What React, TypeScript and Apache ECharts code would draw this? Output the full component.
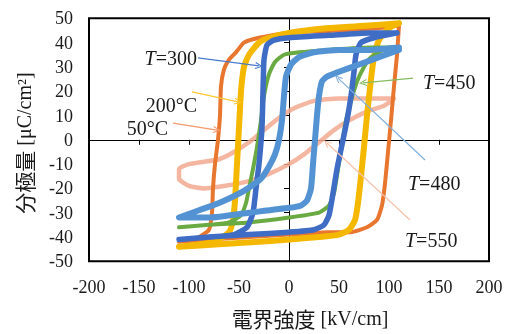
import React, { useEffect, useRef } from 'react';
import * as echarts from 'echarts';

// Axis ranges
const xMin = -200, xMax = 200, xStep = 50;
const yMin = -50, yMax = 50, yStep = 10;

// Hysteresis loops [E (kV/cm), P (μC/cm²)] — upper branch (right→left) then lower branch (left→right)
const loop50C: [number, number][] = [
  [110, 47], [90, 46], [50, 45], [0, 44], [-30, 42], [-45, 40], [-53, 36], [-60, 33], [-65, 29], [-68, 22],
  [-69, 10], [-71, 0], [-74, -10], [-76, -20], [-77, -30], [-80, -37], [-90, -40], [-110, -42],
  [-80, -41], [-40, -40], [0, -39], [40, -38], [62, -38], [78, -36], [88, -33], [93, -27], [96, -18],
  [99, -5], [102, 8], [105, 22], [108, 35], [110, 47],
];
const loop200C: [number, number][] = [
  [110, 48], [80, 47], [40, 46], [0, 44], [-20, 42], [-30, 40], [-40, 35], [-45, 30], [-48, 20], [-50, 5],
  [-52, -10], [-54, -25], [-56, -33], [-60, -38], [-75, -42], [-110, -44],
  [-70, -43], [-30, -42], [0, -41], [30, -40], [50, -39], [60, -37], [66, -33], [69, -26], [72, -15],
  [75, -3], [78, 10], [82, 25], [85, 34], [90, 41], [100, 46], [110, 48],
];
const loopT300: [number, number][] = [
  [108, 44], [80, 44], [40, 43], [0, 42], [-15, 41], [-22, 39], [-25, 33], [-26, 20], [-27, 5], [-30, -10],
  [-33, -20], [-36, -30], [-42, -36], [-55, -39], [-80, -40], [-110, -41],
  [-80, -40], [-40, -39], [0, -38], [25, -37], [35, -35], [40, -31], [44, -22], [48, -12], [53, -2],
  [58, 8], [62, 18], [65, 28], [67, 35], [72, 40], [85, 42], [108, 44],
];
const loopT450: [number, number][] = [
  [110, 38], [80, 38], [40, 37], [10, 36], [-5, 35], [-14, 32], [-20, 27], [-25, 18], [-28, 8], [-32, -3],
  [-36, -12], [-40, -20], [-43, -26], [-48, -31], [-60, -34], [-80, -35], [-110, -36],
  [-80, -35], [-40, -34], [0, -32], [30, -30], [40, -27], [45, -22], [49, -12], [53, -2], [57, 8],
  [62, 16], [68, 24], [75, 30], [82, 34], [95, 37], [110, 38],
];
const loopT480: [number, number][] = [
  [110, 38], [80, 37], [50, 37], [25, 36], [10, 34], [2, 31], [-3, 26], [-5, 18], [-7, 8], [-10, 0],
  [-14, -6], [-20, -11], [-28, -16], [-45, -21], [-70, -26], [-90, -29], [-110, -32],
  [-80, -32], [-40, -30], [0, -28], [12, -27], [18, -25], [22, -20], [24, -10], [26, 0], [28, 10],
  [30, 18], [33, 24], [38, 26], [50, 28], [70, 31], [90, 34], [110, 37],
];
const loopT550: [number, number][] = [
  [105, 17], [80, 17], [50, 17], [25, 16], [5, 13], [-10, 9], [-25, 4], [-40, -1], [-55, -5], [-70, -8],
  [-85, -9], [-100, -10], [-110, -12], [-110, -16], [-100, -19], [-85, -20], [-65, -19], [-40, -17],
  [-20, -14], [0, -10], [15, -6], [30, -1], [45, 4], [60, 8], [80, 12], [95, 14], [105, 17],
];

// Annotation arrows (data coords): from label toward loop
const arrowT300 = { from: [-91, 33.7], to: [-30, 30.4] };
const arrow200C = { from: [-97, 19.7], to: [-51, 15.6] };
const arrow50C = { from: [-116, 6.9], to: [-72, 4.0] };
const arrowT450 = { from: [124, 25.4], to: [74, 23.4] };
const arrowT480 = { from: [136, -8.3], to: [49, 25.4] };
const arrowT550 = { from: [121, -33], to: [38, -1.3] };

const xTitle = '電界強度';
const xUnit = '[kV/cm]';
const yTitle = '分極量';
const yUnit = '[μC/cm²]';

const serif = '"Liberation Serif", "Times New Roman", serif';
const cjk = '"Noto Sans CJK JP", sans-serif';
const arrowPath = 'path://M0,10 L5,0 L10,10 L8.6,10.7 L5,3.2 L1.4,10.7 Z';

export default function App() {
  const ref = useRef<HTMLDivElement>(null);
  useEffect(() => {
    if (!ref.current) return;
    const chart = echarts.init(ref.current, undefined, { renderer: 'svg' });

    const loopSeries = (data: [number, number][], color: string, width: number, opacity = 1) => ({
      type: 'line',
      xAxisIndex: 0,
      yAxisIndex: 0,
      data,
      showSymbol: false,
      symbol: 'none',
      smooth: 0.18,
      lineStyle: { color, width, opacity, cap: 'round', join: 'round' },
      silent: true,
    });

    const arrows = [
      { a: arrowT300, color: '#4A7CCB' },
      { a: arrow200C, color: '#FFC733' },
      { a: arrow50C, color: '#F39A6E' },
      { a: arrowT450, color: '#86BC62' },
      { a: arrowT480, color: '#7FAEDD' },
      { a: arrowT550, color: '#F6C1AC' },
    ];

    const labelText = (text: string, x: number, y: number, align: string) => ({
      type: 'text',
      x,
      y,
      style: {
        text,
        align,
        verticalAlign: 'middle',
        font: `20px ${serif}`,
        fill: '#1a1a1a',
        rich: {
          i: { fontStyle: 'italic', fontSize: 20, fontFamily: serif, fill: '#1a1a1a' },
          n: { fontSize: 20, fontFamily: serif, fill: '#1a1a1a' },
        },
      },
      z: 100,
    });

    chart.setOption({
      animation: false,
      grid: {
        left: 89, right: 17, top: 18.3, bottom: 72.7,
        show: true, borderColor: '#000', borderWidth: 2, backgroundColor: 'transparent',
      },
      xAxis: [
        {
          type: 'value', min: xMin, max: xMax, interval: xStep, position: 'bottom',
          axisLine: { show: false, onZero: false },
          axisTick: { show: false },
          splitLine: { show: false },
          axisLabel: { fontFamily: serif, fontSize: 18, color: '#1a1a1a', margin: 17 },
        },
        {
          type: 'value', min: xMin, max: xMax, interval: xStep, position: 'bottom',
          axisLine: { show: true, onZero: true, lineStyle: { color: '#000', width: 1 } },
          axisTick: { show: true, length: 5, lineStyle: { color: '#000', width: 1 } },
          splitLine: { show: false },
          axisLabel: { show: false },
        },
      ],
      yAxis: [
        {
          type: 'value', min: yMin, max: yMax, interval: yStep, position: 'left',
          axisLine: { show: false, onZero: false },
          axisTick: { show: false },
          splitLine: { show: false },
          axisLabel: { fontFamily: serif, fontSize: 18, color: '#1a1a1a', margin: 16 },
        },
        {
          type: 'value', min: yMin, max: yMax, interval: yStep, position: 'left',
          axisLine: { show: true, onZero: true, lineStyle: { color: '#000', width: 1 } },
          axisTick: { show: true, length: 5, lineStyle: { color: '#000', width: 1 } },
          splitLine: { show: false },
          axisLabel: { show: false },
        },
      ],
      series: [
        loopSeries(loopT550, '#F2A98F', 4.5, 0.85),
        loopSeries(loop50C, '#E8762F', 4),
        loopSeries(loop200C, '#F5B800', 6),
        loopSeries(loopT450, '#6AAA42', 4),
        loopSeries(loopT300, '#3F6CC4', 5.5),
        loopSeries(loopT480, '#5393D3', 6),
        {
          type: 'line',
          xAxisIndex: 0,
          yAxisIndex: 0,
          data: [],
          z: 10,
          silent: true,
          markLine: {
            silent: true,
            animation: false,
            symbol: ['none', arrowPath],
            symbolSize: [7, 8],
            label: { show: false },
            emphasis: { disabled: true },
            data: arrows.map(({ a, color }) => [
              { coord: a.from, lineStyle: { color, width: 1.2, type: 'solid' } },
              { coord: a.to, lineStyle: { color, width: 1.2, type: 'solid' } },
            ]),
          },
        },
      ],
      graphic: [
        labelText('{i|T}{n|=300}', 197, 58, 'right'),
        labelText('{n|200°C}', 197, 105, 'right'),
        labelText('{n|50°C}', 168, 128, 'right'),
        labelText('{i|T}{n|=450}', 423, 82, 'left'),
        labelText('{i|T}{n|=480}', 408, 183, 'left'),
        labelText('{i|T}{n|=550}', 405, 240, 'left'),
        {
          type: 'text',
          x: 310,
          y: 318,
          style: {
            text: `{c|${xTitle}} {l|${xUnit}}`,
            align: 'center',
            verticalAlign: 'middle',
            font: `20px ${serif}`,
            rich: {
              c: { fontFamily: cjk, fontSize: 21, fill: '#1a1a1a' },
              l: { fontFamily: serif, fontSize: 20, fill: '#1a1a1a' },
            },
          },
        },
        {
          type: 'text',
          x: 24,
          y: 143,
          rotation: Math.PI / 2,
          style: {
            text: `{c|${yTitle}} {l|${yUnit}}`,
            align: 'center',
            verticalAlign: 'middle',
            font: `20px ${serif}`,
            rich: {
              c: { fontFamily: cjk, fontSize: 21, fill: '#1a1a1a' },
              l: { fontFamily: serif, fontSize: 20, fill: '#1a1a1a' },
            },
          },
        },
      ],
    });
    return () => chart.dispose();
  }, []);
  return <div ref={ref} style={{ position: 'fixed', left: 0, top: 0, width: 506, height: 334 }} />;
}
